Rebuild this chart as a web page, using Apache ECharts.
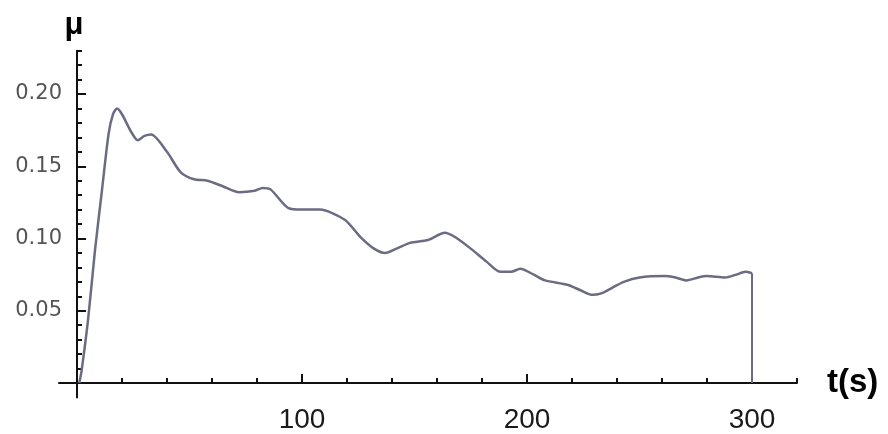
<!DOCTYPE html>
<html>
<head>
<meta charset="utf-8">
<script src="https://cdn.jsdelivr.net/npm/echarts@6/dist/echarts.min.js"></script>
<style>
  html, body { margin: 0; padding: 0; background: #ffffff; }
  #chart { width: 888px; height: 434px; }
</style>
</head>
<body>
<div id="chart"></div>
<script>
// Friction coefficient over time
const timeS = [1, 2, 5, 8, 11, 14, 16, 17.8, 20, 24, 27, 30, 33, 40, 46, 52, 58, 65, 72, 79,
  82.5, 86, 94, 100, 108, 119, 126, 132, 137, 142, 148, 156, 163.5, 168, 175, 182, 188, 193, 197, 203,
  208, 218, 224, 229, 233, 238, 243, 250, 261, 266, 271, 276, 280, 288, 293, 297, 300];
const mu = [0, 0.008, 0.045, 0.092, 0.132, 0.172, 0.186, 0.190, 0.186, 0.174, 0.168, 0.171, 0.172, 0.160, 0.146, 0.141, 0.140, 0.136, 0.132, 0.133,
  0.135, 0.134, 0.121, 0.120, 0.120, 0.113, 0.101, 0.093, 0.090, 0.093, 0.097, 0.099, 0.104, 0.101, 0.093, 0.084, 0.077, 0.077, 0.079, 0.075,
  0.071, 0.068, 0.064, 0.061, 0.062, 0.066, 0.070, 0.073, 0.074, 0.073, 0.071, 0.073, 0.074, 0.073, 0.075, 0.077, 0.076];
const xMajorTicks = [100, 200, 300];
const yMajorTicks = [0.05, 0.10, 0.15, 0.20];

const curve = timeS.map((t, i) => [t, mu[i]]);
const lastT = timeS[timeS.length - 1];
const drop = [[lastT, mu[mu.length - 1]], [lastT, 0]];

// pixel geometry of the frame
const X0 = 77, Y0 = 383, PX_X = 2.25, PX_Y = 1445;
const LINE = '#6b6b84';
const INK = '#111111';

function gridFor(xmin, xmax, ymin, ymax) {
  return {
    left: X0 + xmin * PX_X,
    width: (xmax - xmin) * PX_X,
    top: Y0 - ymax * PX_Y,
    height: (ymax - ymin) * PX_Y,
    containLabel: false,
    outerBoundsMode: 'none'
  };
}

const chart = echarts.init(document.getElementById('chart'));
chart.setOption({
  animation: false,
  backgroundColor: '#ffffff',
  grid: [
    gridFor(-8, 320, -0.01, 0.23), // axis lines crossing at the origin
    gridFor(0, 320, 0, 0.23),      // minor ticks + data
    gridFor(0, 300, 0, 0.20)       // major ticks + labels
  ],
  xAxis: [
    {
      gridIndex: 0, type: 'value', min: -8, max: 320,
      axisLine: { show: true, onZero: true, lineStyle: { color: INK, width: 2 } },
      axisTick: { show: false }, axisLabel: { show: false }, splitLine: { show: false },
      name: 't(s)', nameLocation: 'end', nameGap: 30,
      nameTextStyle: { fontFamily: 'Liberation Sans, Arial, sans-serif', fontWeight: 'bold', fontSize: 33, color: '#000', verticalAlign: 'middle' }
    },
    {
      gridIndex: 1, type: 'value', min: 0, max: 320, interval: 20,
      axisLine: { show: false, onZero: false },
      axisTick: { show: true, inside: true, length: 5, lineStyle: { color: INK, width: 2 } },
      axisLabel: { show: false }, splitLine: { show: false }
    },
    {
      gridIndex: 2, type: 'value', min: 0, max: 300, interval: 100,
      axisLine: { show: false, onZero: false },
      axisTick: { show: true, inside: true, length: 9, lineStyle: { color: INK, width: 2 } },
      axisLabel: {
        show: true, margin: 23, fontFamily: 'Liberation Sans, Arial, sans-serif', fontSize: 28, color: '#1a1a1a',
        formatter: v => (xMajorTicks.indexOf(v) >= 0 ? String(v) : '')
      },
      splitLine: { show: false }
    }
  ],
  yAxis: [
    {
      gridIndex: 0, type: 'value', min: -0.01, max: 0.23,
      axisLine: { show: true, onZero: true, lineStyle: { color: INK, width: 2 } },
      axisTick: { show: false }, axisLabel: { show: false }, splitLine: { show: false },
      name: 'μ', nameLocation: 'end', nameGap: 10,
      nameTextStyle: { fontFamily: 'Liberation Sans, Arial, sans-serif', fontWeight: 'bold', fontSize: 31, color: '#000', padding: [0, 6, 0, 0] }
    },
    {
      gridIndex: 1, type: 'value', min: 0, max: 0.23, interval: 0.01,
      axisLine: { show: false, onZero: false },
      axisTick: { show: true, inside: true, length: 5, lineStyle: { color: INK, width: 2 } },
      axisLabel: { show: false }, splitLine: { show: false }
    },
    {
      gridIndex: 2, type: 'value', min: 0, max: 0.20, interval: 0.05,
      axisLine: { show: false, onZero: false },
      axisTick: { show: true, inside: true, length: 9, lineStyle: { color: INK, width: 2 } },
      axisLabel: {
        show: true, margin: 15, fontFamily: 'DejaVu Sans, Verdana, sans-serif', fontSize: 21, color: '#555555',
        formatter: v => {
          const hit = yMajorTicks.find(m => Math.abs(m - v) < 1e-9);
          return hit !== undefined ? hit.toFixed(2) : '';
        }
      },
      splitLine: { show: false }
    }
  ],
  series: [
    {
      type: 'line', xAxisIndex: 1, yAxisIndex: 1, data: curve,
      smooth: 0.25, showSymbol: false, symbol: 'none',
      lineStyle: { color: LINE, width: 2.5 }, z: 5
    },
    {
      type: 'line', xAxisIndex: 1, yAxisIndex: 1, data: drop,
      smooth: false, showSymbol: false, symbol: 'none',
      lineStyle: { color: LINE, width: 2 }, z: 5
    }
  ]
});
</script>
</body>
</html>
